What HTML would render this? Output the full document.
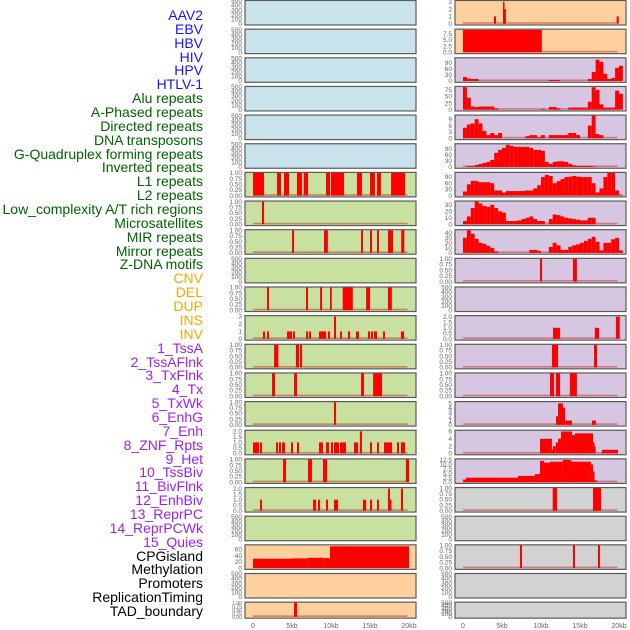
<!DOCTYPE html>
<html><head><meta charset="utf-8"><style>
html,body{margin:0;padding:0;background:#fff;width:630px;height:630px;overflow:hidden}
#labels{position:absolute;left:0;top:0;width:203px;height:630px}
#labels div{position:absolute;right:0;font:14px "Liberation Sans",sans-serif;white-space:nowrap;line-height:14px}
svg{position:absolute;left:0;top:0}
</style></head><body>
<div id="labels"></div>
<svg id="chart" width="630" height="630"></svg>
<script>
// ---- label data ----
const trackNames = ["AAV2","EBV","HBV","HIV","HPV","HTLV-1","Alu repeats","A-Phased repeats","Directed repeats","DNA transposons","G-Quadruplex forming repeats","Inverted repeats","L1 repeats","L2 repeats","Low_complexity A/T rich regions","Microsatellites","MIR repeats","Mirror repeats","Z-DNA motifs","CNV","DEL","DUP","INS","INV","1_TssA","2_TssAFlnk","3_TxFlnk","4_Tx","5_TxWk","6_EnhG","7_Enh","8_ZNF_Rpts","9_Het","10_TssBiv","11_BivFlnk","12_EnhBiv","13_ReprPC","14_ReprPCWk","15_Quies","CPGisland","Methylation","Promoters","ReplicationTiming","TAD_boundary"];
const trackGroups = [6,13,5,15,5];
const groupColors = ["#1414ff","#006400","#ffa500","#a020f0","#000000"];

// ---- series data (kb segments [start,end,value]) ----
const segL1 = [[0,1.41,1],[3.08,3.59,1],[3.97,4.62,1],[5.64,6.28,1],[6.5,7.05,1],[9.36,9.87,1],[10,11.67,1],[13.33,13.97,1],[15,15.64,1],[15.9,16.4,1],[17.7,19.5,1]];
const segL2 = [[1.15,1.41,1]];
const segLeft8 = [[5.0,5.26,1],[9.1,9.6,1],[13.85,14.1,1],[15,15.26,1],[15.9,16.15,1],[17.3,17.95,1],[19,19.4,1]];
const segLeft10 = [[1.8,2.05,1],[6.8,7.05,1],[8.6,8.85,1],[9.87,10.1,1],[11.5,12.8,1],[14.5,15,1],[17.3,17.8,1]];
const segLeft11 = [[1.28,1.54,1],[1.8,2.05,1],[4.36,5.0,1],[5.13,5.38,1],[6.8,7.05,1],[7.18,7.44,1],[8.46,9.36,1],[9.62,9.87,1],[10.38,10.64,3],[11.15,11.4,1],[12.18,12.44,1],[13.2,13.59,1],[14.74,15,1],[15.13,15.38,1],[15.5,15.9,1],[16.67,16.92,1],[18.97,19.36,1]];
const segLeft12 = [[2.7,3.25,1],[5.5,5.9,1],[6.03,6.28,1]];
const segLeft13 = [[2.44,2.82,1],[5.26,5.64,1],[13.85,14.23,1],[15.4,16.54,1]];
const segLeft14 = [[10.38,10.64,1]];
const segLeft15 = [[0,0.77,1],[0.9,1.15,1],[2.95,3.2,1],[3.33,3.59,1],[3.72,4.1,1],[4.87,5.13,1],[5.64,5.9,1],[8.46,8.97,1],[9.36,9.74,1],[10,10.26,1],[10.38,11.03,1],[11.15,11.92,1],[12.95,13.46,1],[13.7,13.97,2],[15,15.26,1],[15.9,16.15,1],[16.8,17.82,1],[18.46,18.72,1],[18.97,19.49,1]];
const segLeft16 = [[3.85,4.23,1],[7.05,7.56,1],[8.97,9.5,1],[19.6,20,1]];
const segLeft17 = [[0.9,1.15,1],[7.7,8.08,1],[8.33,8.6,1],[9.36,9.62,1],[10.38,10.9,1],[14.1,14.5,1],[15,15.26,1],[15.9,16.15,1],[17.3,17.56,2],[17.56,17.7,1],[18.97,19.23,2]];
const segMethyl = [[0,5,30],[5,7,31],[7,9,33],[9,9.87,32],[9.87,20,70]];
const segTAD = [[5.26,5.64,1]];
const segAAV2 = [[3.97,4.23,1],[5.13,5.26,3],[5.26,5.5,2],[19.7,19.97,1]];
const segEBV = [[0,10.1,9]];
const segRight9 = [[9.87,10.13,1],[14.1,14.6,1]];
const segRight11 = [[11.54,12.44,1],[16.9,17.44,1],[19.6,20.1,2]];
const segRight12 = [[11.4,12.18,1],[16.8,17.18,1]];
const segRight13 = [[11.15,11.67,1],[11.92,12.44,1],[13.7,14.6,1]];
const segRight14 = [[11.92,12.18,2],[12.18,12.82,5],[12.82,13.08,4],[13.08,13.97,1],[16.54,17.05,1]];
const segRight15 = [[9.87,11.4,4],[11.4,11.54,1],[11.54,11.9,2],[11.9,12.18,3],[12.18,12.56,4],[12.56,13.97,6],[13.97,14.36,5],[14.36,16.67,5.5],[16.67,16.8,3],[16.8,17.0,2],[17.8,19.87,1]];
const segRight16 = [[0,0.38,1.5],[0.38,7.05,2.5],[7.05,9.2,3.5],[9.2,9.87,4.5],[9.87,10.38,12],[10.38,11.15,11],[11.15,12.8,11.5],[12.8,13.85,12.5],[13.85,16.4,11.5],[16.4,16.67,10],[16.67,16.8,6],[16.8,17.18,1]];
const segRight17 = [[11.5,12.05,1],[16.67,17.7,1]];
const segRight19 = [[7.3,7.56,1],[14.1,14.36,1],[17.3,17.56,1]];

// ---- profile data (0.5 kb bins) ----
const binKb = 0.5;
const profHIV = [20,12,10,10,0,0,0,0,0,0,0,0,0,0,0,0,0,0,0,0,0,0,5,5,5,0,0,0,0,0,0,0,10,45,105,95,35,10,15,65,75];
const profHPV = [85,45,12,10,12,12,12,12,5,0,0,0,0,0,0,0,0,0,0,0,3,0,10,10,5,0,0,8,8,8,8,8,30,85,75,20,8,8,8,72,60];
const profDirected = [5,6.5,7,9,7,3.5,1.5,2.5,1.5,2.5,0,0,0,0,0,0,1,1.5,1.5,0.5,1.5,0,1.5,1.5,1.5,1.5,1.5,2.5,2.5,1.5,0,0,6,11,2,1.5,0,0,0,0,0];
const profDNA = [0,5,5,10,15,20,25,35,70,85,95,110,105,100,100,100,100,95,85,85,80,25,15,25,28,28,25,15,8,5,5,5,5,3,0,0,0,0,0,0,0];
const profGQ = [20,55,72,70,65,65,65,60,25,25,15,22,22,22,22,22,25,25,35,50,90,100,95,60,70,80,90,92,95,92,90,90,90,60,15,35,90,110,110,25,5];
const profL2 = [5,12,25,35,32,28,27,30,25,20,18,5,5,5,6,8,10,12,8,5,5,0,8,15,14,12,10,9,8,7,6,6,10,10,0,0,0,0,0,0,0];
const profMIR = [30,45,38,28,20,18,14,10,3,0,0,0,0,0,0,0,0,6,6,4,0,0,12,20,15,6,6,12,15,17,20,24,28,32,22,5,20,20,27,30,5];

// ---- tick label arrays ----
const ticksEmpty = ["0","100","200","300","400","500"];
const ticksUnit = ["0.00","0.25","0.50","0.75","1.00"];
const ticks3 = ["0","1","2","3"];
const ticks2 = ["0.0","0.5","1.0","1.5","2.0"];
const ticksEBV = ["0.0","2.5","5.0","7.5"];
const ticks90 = ["0","30","60","90"];
const ticksHPV = ["0","25","50","75"];
const ticksDir = ["0","3","6","9"];
const ticksL2 = ["0","10","20","30"];
const ticksMIR = ["0","10","20","30","40"];
const ticks5 = ["0","1","2","3","4","5"];
const ticks6 = ["0","2","4","6"];
const ticks12 = ["0.0","2.5","5.0","7.5","10.0","12.5"];
const ticksMeth = ["0","20","40","60"];
const xTickLabels = ["0","5kb","10kb","15kb","20kb"];
const xTickKb = [0,5,10,15,20];

const BLUE="#c8e3ec",GREEN="#c8e0a0",ORANGE="#fdd09e",PURPLE="#d6c6e2",GRAY="#d2d2d2";
const panels = [];
for(let r=0;r<6;r++) panels.push({c:0,r,bg:BLUE,ymax:500,ticks:ticksEmpty});
panels.push({c:0,r:6,bg:GREEN,ymax:1,ticks:ticksUnit,seg:segL1});
panels.push({c:0,r:7,bg:GREEN,ymax:1,ticks:ticksUnit,seg:segL2});
panels.push({c:0,r:8,bg:GREEN,ymax:1,ticks:ticksUnit,seg:segLeft8});
panels.push({c:0,r:9,bg:GREEN,ymax:500,ticks:ticksEmpty});
panels.push({c:0,r:10,bg:GREEN,ymax:1,ticks:ticksUnit,seg:segLeft10});
panels.push({c:0,r:11,bg:GREEN,ymax:3.05,ticks:ticks3,seg:segLeft11});
panels.push({c:0,r:12,bg:GREEN,ymax:1,ticks:ticksUnit,seg:segLeft12});
panels.push({c:0,r:13,bg:GREEN,ymax:1,ticks:ticksUnit,seg:segLeft13});
panels.push({c:0,r:14,bg:GREEN,ymax:1,ticks:ticksUnit,seg:segLeft14});
panels.push({c:0,r:15,bg:GREEN,ymax:2.05,ticks:ticks2,seg:segLeft15});
panels.push({c:0,r:16,bg:GREEN,ymax:1,ticks:ticksUnit,seg:segLeft16});
panels.push({c:0,r:17,bg:GREEN,ymax:2.05,ticks:ticks2,seg:segLeft17});
panels.push({c:0,r:18,bg:GREEN,ymax:500,ticks:ticksEmpty});
panels.push({c:0,r:19,bg:ORANGE,ymax:73,ticks:ticksMeth,seg:segMethyl});
panels.push({c:0,r:20,bg:ORANGE,ymax:500,ticks:ticksEmpty});
panels.push({c:0,r:21,bg:ORANGE,ymax:1,ticks:ticksUnit,seg:segTAD});
panels.push({c:1,r:0,bg:ORANGE,ymax:3.1,ticks:ticks3,seg:segAAV2});
panels.push({c:1,r:1,bg:ORANGE,ymax:9.1,ticks:ticksEBV,seg:segEBV});
panels.push({c:1,r:2,bg:PURPLE,ymax:112,ticks:ticks90,prof:profHIV});
panels.push({c:1,r:3,bg:PURPLE,ymax:86,ticks:ticksHPV,prof:profHPV});
panels.push({c:1,r:4,bg:PURPLE,ymax:10.7,ticks:ticksDir,prof:profDirected});
panels.push({c:1,r:5,bg:PURPLE,ymax:113,ticks:ticks90,prof:profDNA});
panels.push({c:1,r:6,bg:PURPLE,ymax:110,ticks:ticks90,prof:profGQ});
panels.push({c:1,r:7,bg:PURPLE,ymax:35,ticks:ticksL2,prof:profL2});
panels.push({c:1,r:8,bg:PURPLE,ymax:45,ticks:ticksMIR,prof:profMIR});
panels.push({c:1,r:9,bg:PURPLE,ymax:1,ticks:ticksUnit,seg:segRight9});
panels.push({c:1,r:10,bg:PURPLE,ymax:500,ticks:ticksEmpty});
panels.push({c:1,r:11,bg:PURPLE,ymax:2.05,ticks:ticks2,seg:segRight11});
panels.push({c:1,r:12,bg:PURPLE,ymax:1,ticks:ticksUnit,seg:segRight12});
panels.push({c:1,r:13,bg:PURPLE,ymax:1,ticks:ticksUnit,seg:segRight13});
panels.push({c:1,r:14,bg:PURPLE,ymax:5.3,ticks:ticks5,seg:segRight14});
panels.push({c:1,r:15,bg:PURPLE,ymax:6.2,ticks:ticks6,seg:segRight15});
panels.push({c:1,r:16,bg:PURPLE,ymax:12.8,ticks:ticks12,seg:segRight16});
panels.push({c:1,r:17,bg:GRAY,ymax:1,ticks:ticksUnit,seg:segRight17});
panels.push({c:1,r:18,bg:GRAY,ymax:500,ticks:ticksEmpty});
panels.push({c:1,r:19,bg:GRAY,ymax:1,ticks:ticksUnit,seg:segRight19});
panels.push({c:1,r:20,bg:GRAY,ymax:500,ticks:ticksEmpty});
panels.push({c:1,r:21,bg:GRAY,ymax:500,ticks:ticksEmpty});

// ---- labels ----
const lab = document.getElementById('labels');
let gi=0, gcount=0;
trackNames.forEach((n,i)=>{
  while(gcount>=trackGroups[gi]){gi++;gcount=0;}
  gcount++;
  const d=document.createElement('div');
  
  
  d.textContent=n; d.style.color=groupColors[gi];
  d.style.top=(15+i*13.86-7)+'px';
  lab.appendChild(d);
});

// ---- axis functions ----
const NS="http://www.w3.org/2000/svg";
const svg=document.getElementById('chart');
const colZero=[253,463];
const KBPX=7.8;
const ROWSTEP=28.65;
function xScale(c,kb){return colZero[c]+kb*KBPX;}
function rowTop(r){return r*ROWSTEP;}
function panelH(r){return r===21?16:24.5;}
function yScale(r,ymax,v){const T=rowTop(r);const h=panelH(r);const base=T+h-0.8;const span=h-1.8;return base - v/ymax*span;}
function mk(tag,attrs,parent){const e=document.createElementNS(NS,tag);for(const k in attrs)e.setAttribute(k,attrs[k]);(parent||svg).appendChild(e);return e;}

panels.forEach(p=>{
  const g=mk('g',{});
  
  
  const x0=p.c===0?245:455, w=171, T=rowTop(p.r), h=panelH(p.r);
  const bg=mk('rect',{x:x0,y:T+0.5,width:w,height:h,fill:p.bg,stroke:'#5a5a5a','stroke-width':1.2},g);
  
  
  p.ticks.forEach((t,i)=>{
    const v = p.ymax===500 ? i*100 : parseFloat(t);
    const tx=mk('text',{x:p.c===0?242:452,y:yScale(p.r,p.ymax,v)+2.2,'text-anchor':'end','font-size':p.r===21&&p.ymax===1?5:6.5,fill:'#666','font-family':'Liberation Sans, sans-serif'},g);
    
    
    tx.textContent=t;
  });
  if(!p.seg && !p.prof) return;
  const bl=mk('rect',{x:xScale(p.c,0),y:yScale(p.r,p.ymax,0)-1.5,width:19.8*KBPX,height:1.6,fill:'rgba(190,0,0,0.4)'},g);
  
  
  const bars=[];
  if(p.seg) p.seg.forEach(s=>bars.push([s[0],s[1],s[2]]));
  if(p.prof) p.prof.forEach((v,i)=>bars.push([i*binKb,(i+1)*binKb,v]));
  bars.forEach(b=>{
    if(b[2]<=0) return;
    const v=Math.min(b[2],p.ymax);
    const xa=xScale(p.c,b[0]), xb=Math.min(xScale(p.c,b[1]),x0+w-1);
    const ya=yScale(p.r,p.ymax,v), yb=yScale(p.r,p.ymax,0);
    const r=mk('rect',{x:xa,y:ya,width:Math.max(1.5,xb-xa),height:yb-ya,fill:'#ff0000'},g);
    
    
  });
});

[0,1].forEach(c=>{
  xTickKb.forEach((k,i)=>{
    const t=mk('text',{x:xScale(c,k),y:628,'text-anchor':'middle','font-size':7,fill:'#666','font-family':'Liberation Sans, sans-serif'});
    
    
    t.textContent=xTickLabels[i];
  });
});
</script>
</body></html>
